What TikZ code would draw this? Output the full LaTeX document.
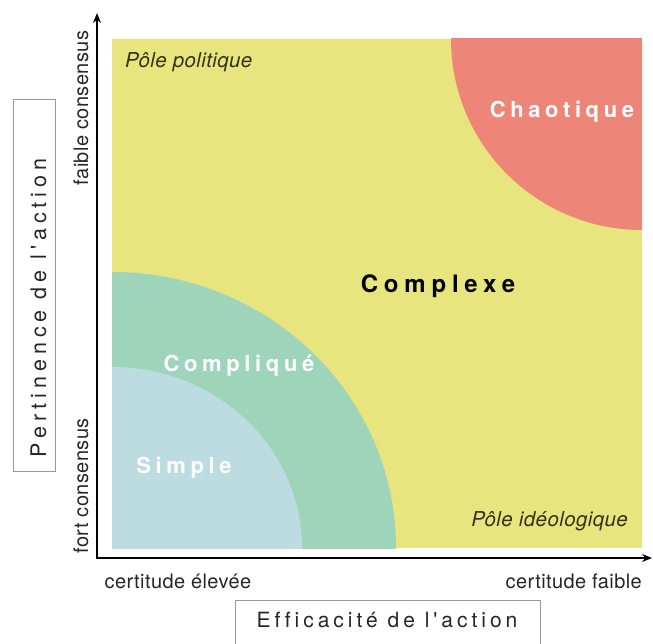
\documentclass[tikz,border=0pt]{standalone}
\usepackage{fontspec}
\setmainfont{TeX Gyre Heros}
\newfontfamily\zonefont[LetterSpace=21,Ligatures=NoCommon]{TeX Gyre Heros}
\newfontfamily\widezonefont[LetterSpace=24,Ligatures=NoCommon]{TeX Gyre Heros}
\newfontfamily\titlefont[LetterSpace=19,Ligatures=NoCommon]{TeX Gyre Heros}
\newfontfamily\widetitlefont[LetterSpace=23,Ligatures=NoCommon]{TeX Gyre Heros}
\newfontfamily\labelfont[LetterSpace=2,Ligatures=NoCommon]{TeX Gyre Heros}
\usepackage{tikz}
\usetikzlibrary{arrows.meta,positioning}

\definecolor{zoneyellow}{RGB}{233,229,126}
\definecolor{zonered}{RGB}{238,133,121}
\definecolor{zonegreen}{RGB}{158,212,186}
\definecolor{zoneblue}{RGB}{188,220,226}
\definecolor{poletext}{RGB}{50,50,20}

\begin{document}
\begin{tikzpicture}[
    x = 1pt,
    y = -1pt,
    axisline/.style={line width=2.4pt, line join=miter, {Stealth[length=10pt,width=8pt]}-{Stealth[length=10pt,width=8pt]}},
    zone/.style={font=\zonefont\bfseries\fontsize{22}{26}\selectfont, anchor=base, inner sep=0pt},
    pole/.style={font=\labelfont\itshape\fontsize{20.5}{24}\selectfont, text=poletext, inner sep=0pt},
    axislabel/.style={font=\labelfont\fontsize{20}{24}\selectfont, text=black!85, inner sep=0pt, anchor=base},
    labelbox/.style={draw=black!40, line width=1pt},
    boxlabel/.style={text=black!85, inner sep=0pt, anchor=base}
    ]
    \useasboundingbox (0,0) rectangle (653,644);
    % zones
    \fill[zoneyellow] (112,39) rectangle (642,548);
    \begin{scope}
        \clip (112,39) rectangle (642,548);
        \fill[zonered] (642,39) circle (191pt);
        \fill[zonegreen] (112,548) ellipse [x radius=284pt, y radius=276pt];
        \fill[zoneblue] (112,548) ellipse [x radius=190pt, y radius=181pt];
    \end{scope}
    \node[zone, text=white] (chaotique) at (562,118) {Chaotique};
    \node[zone, font=\widezonefont\bfseries\fontsize{24}{28}\selectfont] (complexe) at (438,293) {Complexe};
    \node[zone, text=white] (complique) at (239,371) {Compliqué};
    \node[zone, text=white] (simple) at (184,473) {Simple};
    \node[pole, anchor=base west] (politique) at (125,68) {Pôle politique};
    \node[pole, anchor=base east] (ideologique) at (628,526) {Pôle idéologique};
    % axes
    \coordinate (origin) at (97,558);
    \coordinate (ytip) at (97,13);
    \coordinate (xtip) at (652,558);
    \draw[axisline] (ytip) -- (origin) -- (xtip);
    \node[axislabel, rotate=90] (faible) at (88,108) {faible consensus};
    \node[axislabel, rotate=90] (fort) at (88,486) {fort consensus};
    \node[axislabel] (elevee) at (178,588) {certitude élevée};
    \node[axislabel, anchor=base east] (faiblecert) at (642,588) {certitude faible};
    % axis titles
    \draw[labelbox] (13,100) rectangle (55,471);
    \node[boxlabel, rotate=90, font=\widetitlefont\fontsize{21.5}{26}\selectfont] (pertinence) at (46,308) {Pertinence de l'action};
    \draw[labelbox] (235,600) rectangle (540,660);
    \node[boxlabel, font=\titlefont\fontsize{21}{26}\selectfont] (efficacite) at (387,627) {Efficacité de l'action};
\end{tikzpicture}
\end{document}
